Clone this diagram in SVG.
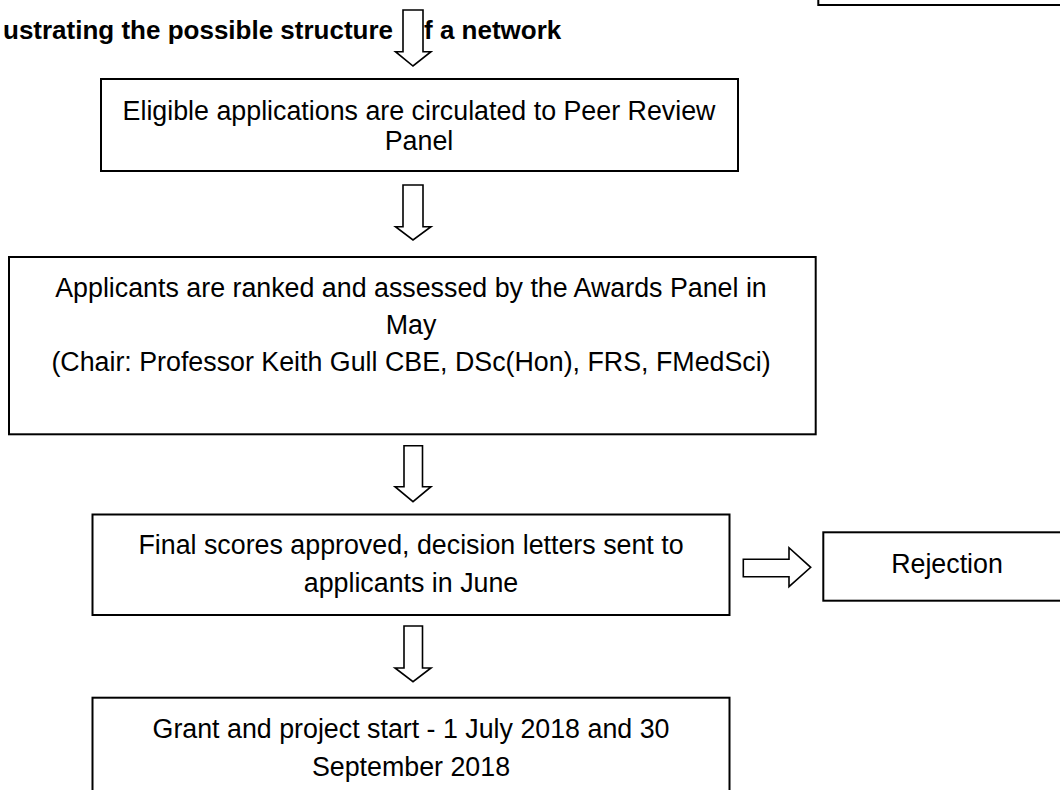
<svg xmlns="http://www.w3.org/2000/svg" width="1060" height="790" viewBox="0 0 1060 790">
<style>
  .box { fill: #ffffff; stroke: #000000; stroke-width: 2; }
  .lbl { font-family: "Liberation Sans", Arial, sans-serif; font-size: 26.8px; fill: #000000; text-anchor: middle; }
  .title { font-family: "Liberation Sans", Arial, sans-serif; font-size: 26px; font-weight: bold; fill: #000000; }
  .arrow { fill: #ffffff; stroke: #000000; stroke-width: 1.6; stroke-linejoin: miter; }
</style>
<rect x="0" y="0" width="1060" height="790" fill="#ffffff"/>

<g id="title">
  <text class="title" x="3" y="38.5">ustrating the possible structure</text>
  <text class="title" x="424" y="38.5">f a network</text>
</g>

<g id="topright">
  <rect class="box" x="818.3" y="-10" width="260" height="15"/>
</g>

<g id="eligible">
  <rect class="box" x="101" y="79" width="637" height="92"/>
  <text class="lbl" x="419" y="120">Eligible applications are circulated to Peer Review</text>
  <text class="lbl" x="419" y="149.5">Panel</text>
</g>

<g id="ranked">
  <rect class="box" x="9" y="257" width="806.7" height="177.3"/>
  <text class="lbl" x="411" y="296.5">Applicants are ranked and assessed by the Awards Panel in</text>
  <text class="lbl" x="411" y="334">May</text>
  <text class="lbl" x="411" y="371">(Chair: Professor Keith Gull CBE, DSc(Hon), FRS, FMedSci)</text>
</g>

<g id="final">
  <rect class="box" x="92.5" y="514.5" width="637" height="100.5"/>
  <text class="lbl" x="411" y="554">Final scores approved, decision letters sent to</text>
  <text class="lbl" x="411" y="591.7">applicants in June</text>
</g>

<g id="rejection">
  <rect class="box" x="823.3" y="532.3" width="250" height="68.4"/>
  <text class="lbl" x="947" y="572.7">Rejection</text>
</g>

<g id="grant">
  <rect class="box" x="92.5" y="697.7" width="637" height="110"/>
  <text class="lbl" x="411" y="738">Grant and project start - 1 July 2018 and 30</text>
  <text class="lbl" x="411" y="776">September 2018</text>
</g>

<g id="connectors">
  <path class="arrow" d="M403,10 H423 V51.7 H431 L413,66 L395.5,51.7 H403 Z"/>
  <path class="arrow" d="M403,185 H423 V226.7 H431 L413,240 L395.5,226.7 H403 Z"/>
  <path class="arrow" d="M404,445.7 H422.5 V486.7 H431 L413,501.7 L395,486.7 H404 Z"/>
  <path class="arrow" d="M404,626 H422.5 V668 H431 L413,681.7 L395,668 H404 Z"/>
  <path class="arrow" d="M743.3,559.3 H789 V547.7 L810.7,567.3 L789,586.7 V576.7 H743.3 Z"/>
</g>
</svg>
